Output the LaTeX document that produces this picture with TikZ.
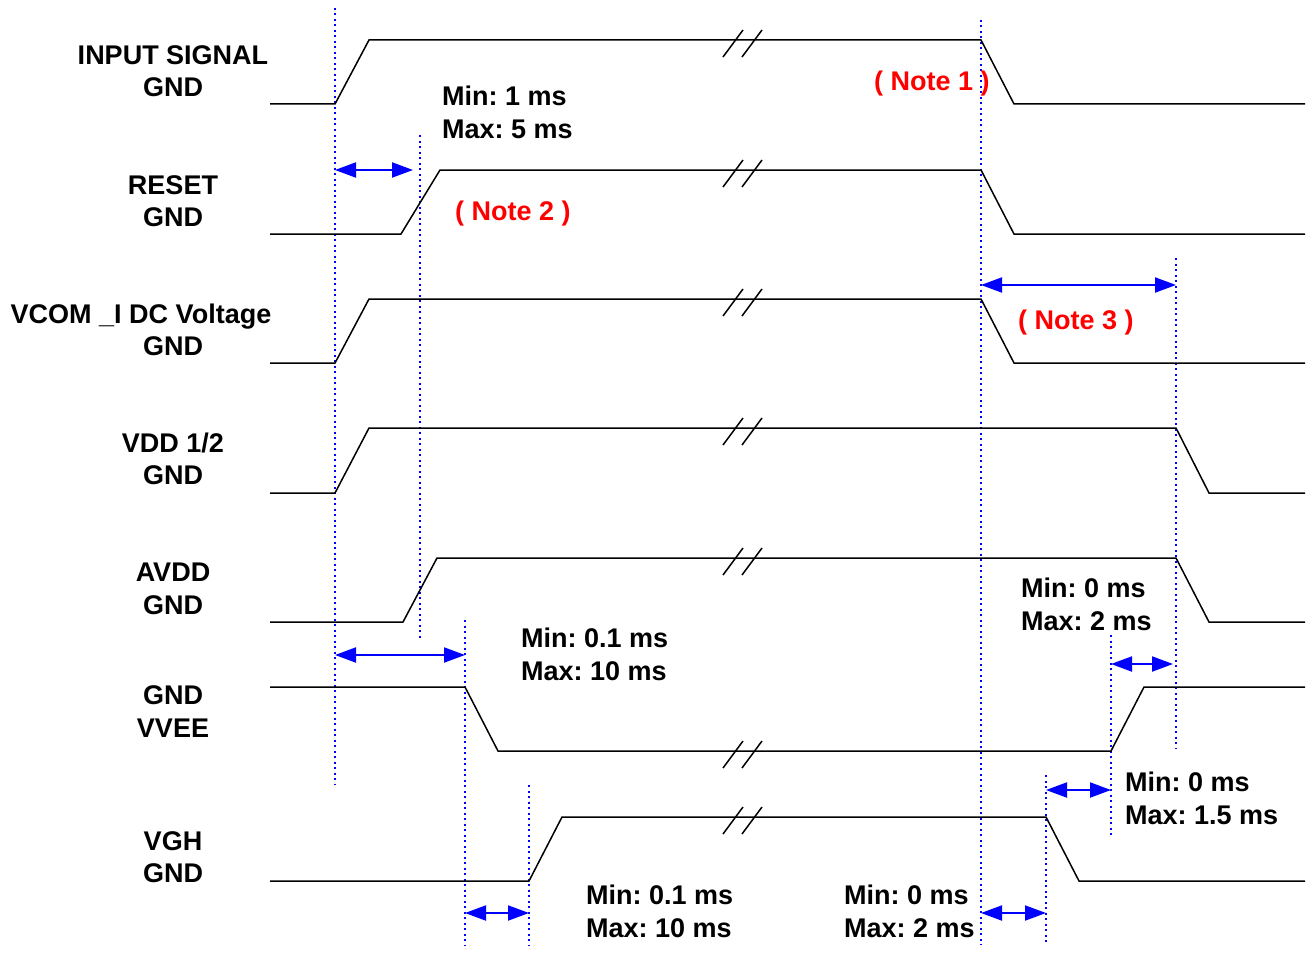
\documentclass[tikz,border=0pt]{standalone}
\usepackage{fontspec}
\setmainfont{Liberation Sans}
\usetikzlibrary{arrows.meta}
\frenchspacing
\begin{document}
\begin{tikzpicture}[x=1pt,y=-1pt,
  sig/.style={line width=1.5pt,black,line join=miter},
  brk/.style={line width=1.5pt,black},
  guide/.style={blue,line width=1.6pt,dash pattern=on 2pt off 3.5pt},
  dim/.style={blue,line width=2pt,{Triangle[length=21pt,width=15pt]}-{Triangle[length=21pt,width=15pt]}},
  lbl/.style={font=\fontsize{27}{33}\selectfont\bfseries,anchor=base,inner sep=0pt},
  txt/.style={font=\fontsize{27}{33}\selectfont\bfseries,anchor=base west,inner sep=0pt},
  note/.style={txt,red}]
\useasboundingbox (0,0) rectangle (1308,955);
\newcommand\brkmark[2]{\draw[brk] (#1-17,#2+17)--(#1+3,#2-10) (#1+2,#2+17)--(#1+22,#2-10);}
% guides
\draw[guide] (335,8) coordinate (g1t) -- (335,785) coordinate (g1b);
\draw[guide] (420,135) coordinate (g2t) -- (420,640) coordinate (g2b);
\draw[guide] (465,620) coordinate (g3t) -- (465,945) coordinate (g3b);
\draw[guide] (529,785) coordinate (g4t) -- (529,945) coordinate (g4b);
\draw[guide] (981,20) coordinate (g5t) -- (981,945) coordinate (g5b);
\draw[guide] (1046,775) coordinate (g6t) -- (1046,945) coordinate (g6b);
\draw[guide] (1111,635) coordinate (g7t) -- (1111,835) coordinate (g7b);
\draw[guide] (1176,258) coordinate (g8t) -- (1176,748) coordinate (g8b);
% signals
\draw[sig] (270,104) -- (335,104) -- (369,40) -- (981,40) -- (1014,104) -- (1305,104);
\brkmark{740}{40}
\draw[sig] (270,234) -- (401,234) -- (440,170) -- (981,170) -- (1014,234) -- (1305,234);
\brkmark{740}{170}
\draw[sig] (270,363) -- (335,363) -- (369,299) -- (981,299) -- (1014,363) -- (1305,363);
\brkmark{740}{299}
\draw[sig] (270,493) -- (335,493) -- (369,428) -- (1176,428) -- (1209,493) -- (1305,493);
\brkmark{740}{428}
\draw[sig] (270,622) -- (403,622) -- (437,558) -- (1176,558) -- (1209,622) -- (1305,622);
\brkmark{740}{558}
\draw[sig] (270,687) -- (465,687) -- (498,751) -- (1111,751) -- (1144,687) -- (1305,687);
\brkmark{740}{751}
\draw[sig] (270,881) -- (529,881) -- (562,817) -- (1046,817) -- (1079,881) -- (1305,881);
\brkmark{740}{817}
% dimension arrows
\coordinate (a1l) at (335,170); \coordinate (a1r) at (413,170);
\draw[dim] (a1l) -- (a1r);
\coordinate (a2l) at (981,285); \coordinate (a2r) at (1176,285);
\draw[dim] (a2l) -- (a2r);
\coordinate (a3l) at (335,655); \coordinate (a3r) at (465,655);
\draw[dim] (a3l) -- (a3r);
\coordinate (a4l) at (1111,664); \coordinate (a4r) at (1173,664);
\draw[dim] (a4l) -- (a4r);
\coordinate (a5l) at (1046,790); \coordinate (a5r) at (1111,790);
\draw[dim] (a5l) -- (a5r);
\coordinate (a6l) at (465,913); \coordinate (a6r) at (529,913);
\draw[dim] (a6l) -- (a6r);
\coordinate (a7l) at (981,913); \coordinate (a7r) at (1046,913);
\draw[dim] (a7l) -- (a7r);
% signal labels
\node[lbl] (l1a) at (173,65) {INPUT SIGNAL};
\node[lbl] (l1b) at (173,97) {GND};
\node[lbl] (l2a) at (173,194) {RESET};
\node[lbl] (l2b) at (173,226) {GND};
\node[lbl] (l3a) at (141,323) {VCOM \_I DC Voltage};
\node[lbl] (l3b) at (173,355) {GND};
\node[lbl] (l4a) at (173,452) {VDD 1/2};
\node[lbl] (l4b) at (173,484) {GND};
\node[lbl] (l5a) at (173,581) {AVDD};
\node[lbl] (l5b) at (173,614) {GND};
\node[lbl] (l6a) at (173,704) {GND};
\node[lbl] (l6b) at (173,737) {VVEE};
\node[lbl] (l7a) at (173,850) {VGH};
\node[lbl] (l7b) at (173,882) {GND};
% timing texts
\node[txt] (t1a) at (442,106) {Min: 1 ms};
\node[txt] (t1b) at (442,139) {Max: 5 ms};
\node[txt] (t2a) at (521,647) {Min: 0.1 ms};
\node[txt] (t2b) at (521,680) {Max: 10 ms};
\node[txt] (t3a) at (1021,597) {Min: 0 ms};
\node[txt] (t3b) at (1021,630) {Max: 2 ms};
\node[txt] (t4a) at (1125,791) {Min: 0 ms};
\node[txt] (t4b) at (1125,824) {Max: 1.5 ms};
\node[txt] (t5a) at (586,904) {Min: 0.1 ms};
\node[txt] (t5b) at (586,937) {Max: 10 ms};
\node[txt] (t6a) at (844,904) {Min: 0 ms};
\node[txt] (t6b) at (844,937) {Max: 2 ms};
% notes
\node[note] (n1) at (874,91) {( Note 1 )};
\node[note] (n2) at (455,220) {( Note 2 )};
\node[note] (n3) at (1018,329) {( Note 3 )};
\end{tikzpicture}
\end{document}
